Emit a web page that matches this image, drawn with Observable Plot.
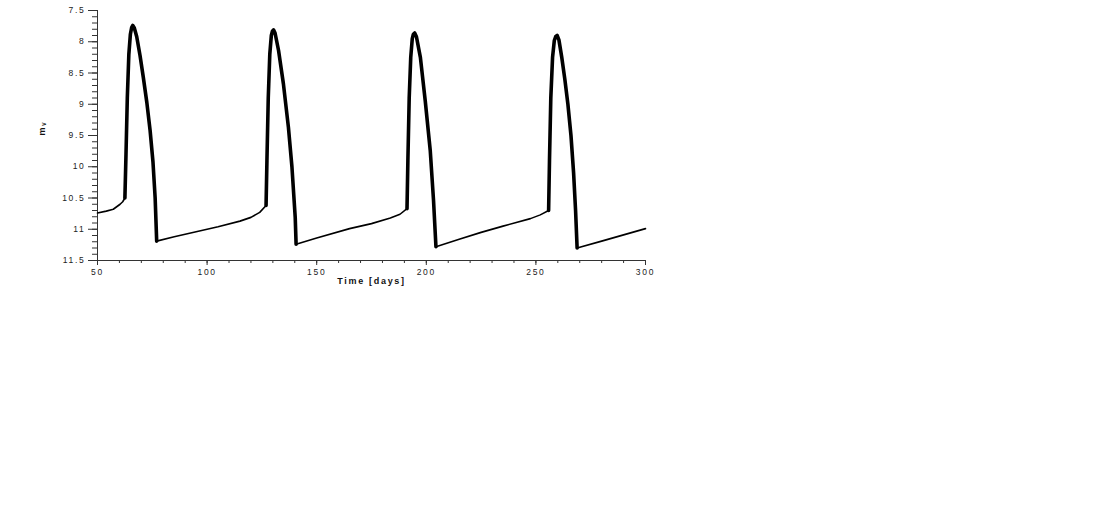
<!DOCTYPE html>
<html><head><meta charset="utf-8">
<script src="https://cdn.jsdelivr.net/npm/d3@7"></script>
<script src="https://cdn.jsdelivr.net/npm/@observablehq/plot@0.6"></script>
<style>body{margin:0;background:#fff}</style>
</head><body><div id="chart"></div>
<script>
// Time [days]
const days = [
  50, 54, 57.2, 60.3, 61.5, 62.5, 63.0, 63.6, 64.3, 65.0, 65.6, 66.1, 66.8, 67.9, 69.4, 70.9, 72.5, 74.0, 75.3, 76.3, 77.0,
  85, 95, 105, 115, 120, 124, 126.9,
  127.3, 127.9, 128.6, 129.3, 129.8, 130.3, 131.0, 132.6, 134.8, 137.1, 138.7, 140.2, 140.6,
  150, 165, 175, 183.6, 188, 191.2,
  191.6, 192.2, 192.9, 193.6, 194.1, 194.7, 195.5, 197.3, 199.5, 201.8, 203.3, 204.4,
  215, 225, 235, 247.5, 252, 255.8,
  256.2, 256.8, 257.6, 258.4, 259.0, 259.7, 260.5, 261.8, 263.2, 264.6, 266.0, 267.2, 268.1, 268.8,
  280, 290, 300
];
// m_V
const mags = [
  10.74, 10.71, 10.68, 10.60, 10.56, 10.50, 9.80, 8.90, 8.20, 7.88, 7.77, 7.74, 7.78, 7.92, 8.22, 8.57, 8.97, 9.42, 9.92, 10.50, 11.19,
  11.12, 11.04, 10.96, 10.87, 10.81, 10.73, 10.62,
  9.90, 8.90, 8.20, 7.90, 7.83, 7.81, 7.86, 8.14, 8.67, 9.37, 10.00, 10.81, 11.24,
  11.14, 10.99, 10.91, 10.82, 10.76, 10.67,
  9.90, 8.90, 8.25, 7.95, 7.88, 7.86, 7.92, 8.25, 8.94, 9.74, 10.54, 11.28,
  11.16, 11.05, 10.95, 10.83, 10.77, 10.70,
  9.90, 8.90, 8.25, 7.98, 7.92, 7.90, 7.97, 8.25, 8.60, 9.00, 9.50, 10.10, 10.70, 11.30,
  11.19, 11.09, 10.99
];
// outburst windows [start, end] (days), drawn with the heavier stroke
const outbursts = [[62.5, 77.0], [126.9, 140.6], [191.2, 204.4], [255.8, 268.8]];

const xTicks = [50, 100, 150, 200, 250, 300];
const yTicks = [7.5, 8, 8.5, 9, 9.5, 10, 10.5, 11, 11.5];
const xMinorTicks = d3.range(50, 301, 10);
const yMinorTicks = d3.range(75, 116).map(d => d / 10);
const xLabel = "Time [days]";
const yLabel = "mᵥ";

const rows = days.map((t, i) => ({t, m: mags[i]}));
const burstRows = rows.flatMap(r => {
  const k = outbursts.findIndex(([a, b]) => r.t >= a && r.t <= b);
  return k >= 0 ? [{...r, k}] : [];
});

const axisColor = "#333";
const chart = Plot.plot({
  width: 1102, height: 511,
  marginLeft: 97, marginRight: 457, marginTop: 10, marginBottom: 251,
  style: "font-family: 'Liberation Sans', Arial, sans-serif; font-size: 8.5px; letter-spacing: 1.7px; color: #222; background: #fff;",
  x: {domain: [50, 300]},
  y: {domain: [7.5, 11.5], reverse: true},
  marks: [
    Plot.axisX({ticks: xMinorTicks, tickSize: 3, fill: "none", stroke: axisColor}),
    Plot.axisX({ticks: xTicks, tickSize: 5, tickPadding: 3, tickFormat: d => `${d}`, label: null, stroke: axisColor}),
    Plot.axisY({ticks: yMinorTicks, tickSize: 5, fill: "none", stroke: axisColor}),
    Plot.axisY({ticks: yTicks, tickSize: 9, tickPadding: 3, tickFormat: d => `${d}`, label: null, stroke: axisColor}),
    Plot.ruleX([50], {stroke: axisColor}),
    Plot.ruleY([11.5], {stroke: axisColor}),
    Plot.line(rows, {x: "t", y: "m", stroke: "#000", strokeWidth: 1.6}),
    Plot.line(burstRows, {x: "t", y: "m", z: "k", stroke: "#000", strokeWidth: 3.6, strokeLinejoin: "round"}),
    Plot.text([xLabel], {frameAnchor: "bottom", dy: 23, fontWeight: "bold", fontSize: 9, fill: "#111"}),
    Plot.text([yLabel], {frameAnchor: "left", dx: -55, rotate: -90, fontWeight: "bold", fontSize: 9, fill: "#111"})
  ]
});
document.getElementById("chart").appendChild(chart);
</script>
</body></html>
